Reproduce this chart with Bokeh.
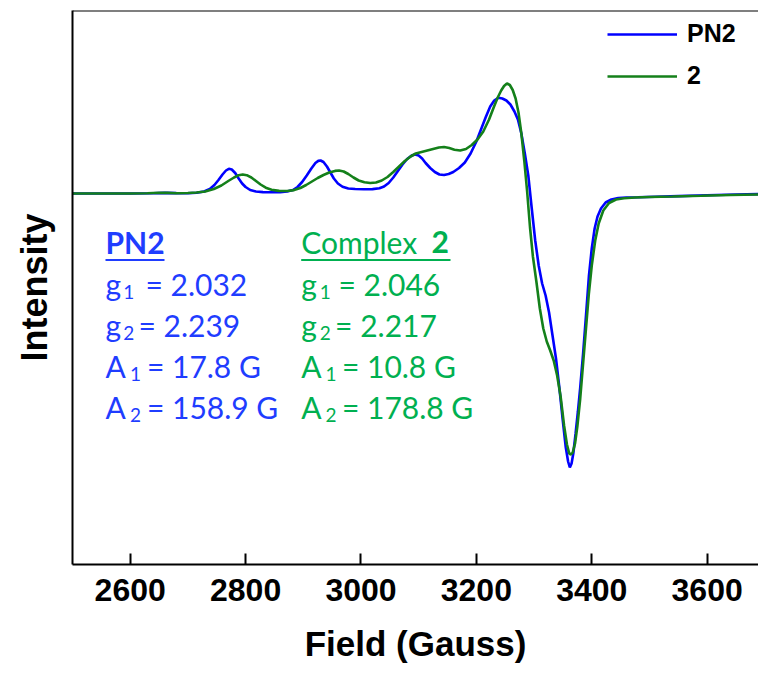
from bokeh.plotting import figure
from bokeh.models import (Range1d, Label, Legend, LegendItem, Span, FixedTicker,
                          BoxAnnotation)
from bokeh.embed import file_html
from bokeh.resources import INLINE

# ---------------- data ----------------
field_pn2 = [2500, 2550, 2600, 2640, 2660, 2680, 2700, 2715, 2728, 2738, 2746, 2753,
             2760, 2766, 2771, 2776, 2782, 2788, 2794, 2800, 2808, 2818, 2830, 2845,
             2860, 2872, 2882, 2890, 2898, 2906, 2914, 2921, 2926, 2930, 2935, 2941,
             2947, 2953, 2960, 2968, 2978, 2990, 3005, 3020, 3032, 3040, 3048, 3056,
             3064, 3072, 3080, 3088, 3094, 3100, 3106, 3112, 3120, 3128, 3136, 3144,
             3152, 3160, 3170, 3180, 3190, 3200, 3208, 3216, 3224, 3231, 3238, 3245,
             3252, 3259, 3266, 3272, 3278, 3284, 3290, 3296, 3302, 3308, 3314, 3320,
             3326, 3332, 3338, 3344, 3350, 3355, 3359, 3362, 3365, 3368, 3372, 3376,
             3380, 3385, 3390, 3395, 3400, 3405, 3410, 3416, 3424, 3434, 3446, 3460,
             3480, 3510, 3550, 3600, 3650, 3700]
intensity_pn2 = [0, 0, 0, 0.3, 0.6, 0.4, 0.3, 0.8, 2, 4.5, 8.5, 13.5,
                 19, 23, 24.7, 24, 20.5, 15, 10, 6.5, 3.5, 2, 1.4, 1.2,
                 1.4, 2, 3.5, 6.5, 11.5, 18, 25, 30.5, 32.6, 33, 31.5, 27,
                 21, 15, 10, 6.8, 5, 4.5, 4.3, 4.4, 5.2, 7, 10.5, 16,
                 22.5, 29, 34.5, 38, 39, 38, 35, 30.5, 25.5, 21.5, 19, 18.5,
                 19.5, 21.5, 25.5, 31, 40, 52, 64, 76, 87, 93, 95.7, 95,
                 93, 89, 82, 74, 60, 40, 18, -15, -47, -72, -90, -102,
                 -119, -142, -165, -195, -228, -254, -268, -274, -270, -260, -240, -218,
                 -194, -160, -122, -83, -55, -35, -23, -15, -9, -6, -4.5, -4,
                 -3.7, -3.2, -2.6, -1.8, -1, -0.5]

field_c2 = [2500, 2550, 2600, 2630, 2650, 2665, 2680, 2700, 2715, 2730, 2745, 2758,
            2770, 2780, 2788, 2795, 2802, 2810, 2818, 2826, 2835, 2845, 2858, 2872,
            2884, 2895, 2905, 2915, 2925, 2935, 2945, 2955, 2962, 2970, 2978, 2987,
            2996, 3006, 3016, 3026, 3036, 3046, 3056, 3066, 3076, 3086, 3095, 3105,
            3115, 3125, 3135, 3144, 3153, 3162, 3172, 3182, 3192, 3202, 3212, 3222,
            3230, 3237, 3243, 3248, 3253, 3258, 3263, 3268, 3273, 3278, 3283, 3288,
            3293, 3298, 3304, 3310, 3316, 3322, 3328, 3334, 3340, 3346, 3352, 3357,
            3361, 3364, 3367, 3371, 3375, 3380, 3385, 3390, 3395, 3400, 3406, 3412,
            3420, 3430, 3442, 3456, 3475, 3500, 3540, 3590, 3640, 3700]
intensity_c2 = [0, 0, 0, 0.3, 0.8, 0.6, 0.3, 0.5, 1, 2, 4.5, 8,
                12.5, 16, 18.3, 19, 18.3, 16, 12.5, 9, 5.8, 3.8, 2.6, 2.5,
                3.4, 5.5, 8.5, 12, 15.5, 18.5, 21, 22.6, 23, 22, 19.5, 16,
                13, 11.2, 10.5, 11, 13, 16.5, 21.5, 27, 32.5, 37, 40, 41.5,
                43, 44.5, 46, 46.5, 45.5, 43.8, 43, 44.5, 48.5, 54, 62, 74,
                86, 96, 103, 107.5, 110, 108.5, 103.5, 95, 81, 60, 33, 2,
                -34, -63, -88, -115, -135, -148, -157, -167, -182, -203, -232, -251,
                -260, -261, -259, -250, -233, -205, -170, -135, -100, -72, -47, -30,
                -17, -9.5, -6, -4.8, -4, -3.5, -3, -2.3, -1.5, -0.8]

series_names = ["PN2", "2"]
x_ticks = [2600, 2800, 3000, 3200, 3400, 3600]

pn2_params = ["2.032", "2.239", "17.8 G", "158.9 G"]
c2_params = ["2.046", "2.217", "10.8 G", "178.8 G"]

# ---------------- layout ----------------
W, H = 758, 673
LEFT, TOP, BOT = 72, 10, 564
X0, X1 = 2500, 3689
Y0, Y1 = -371, 183

BLUE_LINE = "#0000ff"
GREEN_LINE = "#14801a"
BLUE_TXT = "#1f3dff"
GREEN_TXT = "#00b050"

p = figure(width=W, height=H, output_backend="svg", toolbar_location=None,
           x_range=Range1d(X0, X1), y_range=Range1d(Y0, Y1),
           min_border_left=LEFT, min_border_right=0, min_border_top=TOP,
           min_border_bottom=H - BOT)
p.outline_line_color = None
p.xgrid.visible = False
p.ygrid.visible = False
p.background_fill_color = "white"
p.border_fill_color = "white"

r1 = p.line(field_pn2, intensity_pn2, line_color=BLUE_LINE, line_width=2.6)
r2 = p.line(field_c2, intensity_c2, line_color=GREEN_LINE, line_width=2.6)

# x axis
xa = p.xaxis[0]
xa.ticker = FixedTicker(ticks=x_ticks)
xa.minor_tick_line_color = None
xa.major_tick_in = 11
xa.major_tick_out = 0
xa.major_tick_line_width = 2
xa.axis_line_width = 2
xa.axis_line_color = "black"
xa.major_label_text_font = "Liberation Sans"
xa.major_label_text_font_style = "bold"
xa.major_label_text_font_size = "32px"
xa.major_label_text_color = "black"
xa.major_label_standoff = 14
xa.axis_label = "Field (Gauss)"
xa.axis_label_text_font = "Liberation Sans"
xa.axis_label_text_font_style = "bold"
xa.axis_label_text_font_size = "35px"
xa.axis_label_text_color = "black"
xa.axis_label_standoff = 20

# y axis (line + title only)
ya = p.yaxis[0]
ya.ticker = FixedTicker(ticks=[])
ya.minor_tick_line_color = None
ya.major_tick_line_color = None
ya.major_label_text_font_size = "0px"
ya.major_label_standoff = 0
ya.axis_line_width = 2
ya.axis_line_color = "black"
ya.axis_label = "Intensity"
ya.axis_label_text_font = "Liberation Sans"
ya.axis_label_text_font_style = "bold"
ya.axis_label_text_font_size = "36px"
ya.axis_label_text_color = "black"
ya.axis_label_standoff = 18

# top border
p.add_layout(Span(location=Y1, dimension="width", line_color="black", line_width=2))

# legend
legend = Legend(items=[LegendItem(label=series_names[0], renderers=[r1]),
                       LegendItem(label=series_names[1], renderers=[r2])],
                location=(535, 474), padding=0, margin=0, spacing=13,
                glyph_width=70, glyph_height=24, label_height=24,
                label_standoff=10, border_line_color=None,
                background_fill_alpha=0,
                label_text_font="Liberation Sans", label_text_font_style="bold",
                label_text_font_size="25px", label_text_color="black")
p.add_layout(legend, "center")

# ---------------- annotation text (pixel positions -> data) ----------------
SX = (W - LEFT) / (X1 - X0)


def fx(px):
    return X0 + (px - LEFT) / SX


def fy(py):
    return Y1 - (py - TOP)


FONT = "Lato"
MAIN = "30px"
SUB = "19px"
DY = -11.5  # rendering offset of the alphabetic baseline


def txt(px, py, s, color, size=MAIN, bold=False):
    p.add_layout(Label(x=fx(px), y=fy(py + DY), text=s, text_color=color,
                       text_font=FONT, text_font_size=size,
                       text_font_style="bold" if bold else "normal",
                       text_align="left", text_baseline="alphabetic"))


def underline(px0, px1, py, color):
    p.add_layout(BoxAnnotation(left=fx(px0), right=fx(px1), top=fy(py - 1),
                               bottom=fy(py + 1), fill_color=color, fill_alpha=1,
                               line_color=None))


rows = [295, 336, 377, 418]
subs = ["1", "2", "1", "2"]
letters = ["g", "g", "A", "A"]

# PN2 column
txt(105, 253, "PN2", BLUE_TXT, bold=True)
underline(105, 164, 259.5, BLUE_TXT)
sub_x_b = [122.7, 122.7, 129.5, 129.5]
eq_x_b = [145, 138, 146.4, 146.4]
for i in range(4):
    txt(105, rows[i], letters[i], BLUE_TXT)
    txt(sub_x_b[i], rows[i] + 8, subs[i], BLUE_TXT, size=SUB)
    txt(eq_x_b[i], rows[i], "= " + pn2_params[i], BLUE_TXT)

# Complex 2 column
txt(300.7, 253, "Complex", GREEN_TXT)
txt(431, 253, "2", GREEN_TXT, bold=True)
underline(300.7, 450, 259.5, GREEN_TXT)
sub_x_g = [319.3, 319.3, 325, 325]
eq_x_g = [338, 334.6, 341.4, 341.4]
for i in range(4):
    txt(300.7, rows[i], letters[i], GREEN_TXT)
    txt(sub_x_g[i], rows[i] + 8, subs[i], GREEN_TXT, size=SUB)
    txt(eq_x_g[i], rows[i], "= " + c2_params[i], GREEN_TXT)

open("out.html", "w").write(file_html(p, INLINE))
